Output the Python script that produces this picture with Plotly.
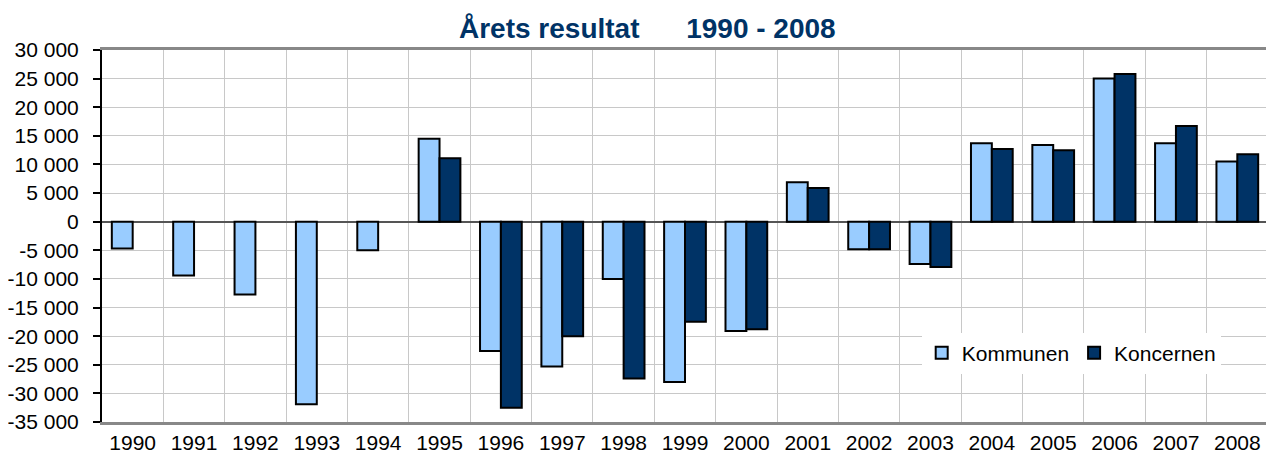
import plotly.graph_objects as go

years = [str(y) for y in range(1990, 2009)]

kommunen = [-4700, -9400, -12700, -31900, -5000, 14500, -22600, -25300, -10000,
            -28000, -19100, 6900, -4800, -7400, 13700, 13400, 25000, 13700, 10500]
koncernen = [None, None, None, None, None, 11100, -32500, -20000, -27400,
             -17500, -18800, 5900, -4800, -7900, 12700, 12500, 25800, 16700, 11800]

ytick_vals = list(range(-35000, 30001, 5000))
ytick_text = [f"{v:,}".replace(",", " ") for v in ytick_vals]

fig = go.Figure()

fig.add_trace(go.Bar(
    x=years, y=kommunen, name="Kommunen",
    marker=dict(color="#99ccff", line=dict(color="#000000", width=2)),
))
fig.add_trace(go.Bar(
    x=years, y=koncernen, name="Koncernen",
    marker=dict(color="#003366", line=dict(color="#000000", width=2)),
))

# the page body adds an 8px margin, so the figure is 8px smaller
nb = "\u00a0" * 6
fig.update_layout(
    width=1266, height=446,
    margin=dict(l=94, r=6, t=42, b=32, autoexpand=False),
    paper_bgcolor="white", plot_bgcolor="white",
    font=dict(family="Liberation Sans, Arial", size=21, color="#000000"),
    title=dict(
        text=f"<b>Årets resultat{nb}1990 - 2008</b>",
        x=0.505, xanchor="center", y=0.955, yanchor="middle",
        font=dict(size=28, color="#003366"),
    ),
    barmode="group", bargap=0.32, bargroupgap=0,
    showlegend=True,
    legend=dict(
        orientation="h", x=0.703, y=0.24, xanchor="left", yanchor="top",
        bgcolor="white", font=dict(size=21),
        itemwidth=30, tracegroupgap=0,
    ),
    xaxis=dict(
        type="category", categoryarray=years, automargin=False,
        tickson="boundaries", showgrid=True, gridcolor="#c8c8c8", gridwidth=1,
        ticks="", showline=True, linecolor="#888888", linewidth=3, mirror=True,
        ticklabelstandoff=0,
    ),
    yaxis=dict(
        range=[-35000, 30000], tickvals=ytick_vals, ticktext=ytick_text,
        automargin=False,
        showgrid=True, gridcolor="#c8c8c8", gridwidth=1,
        zeroline=True, zerolinecolor="#555555", zerolinewidth=2,
        showline=True, linecolor="#000000", linewidth=2,
        ticks="outside", ticklen=7, tickcolor="#000000", tickwidth=2,
        ticklabelstandoff=10,
    ),
)

fig.write_html("out.html")
